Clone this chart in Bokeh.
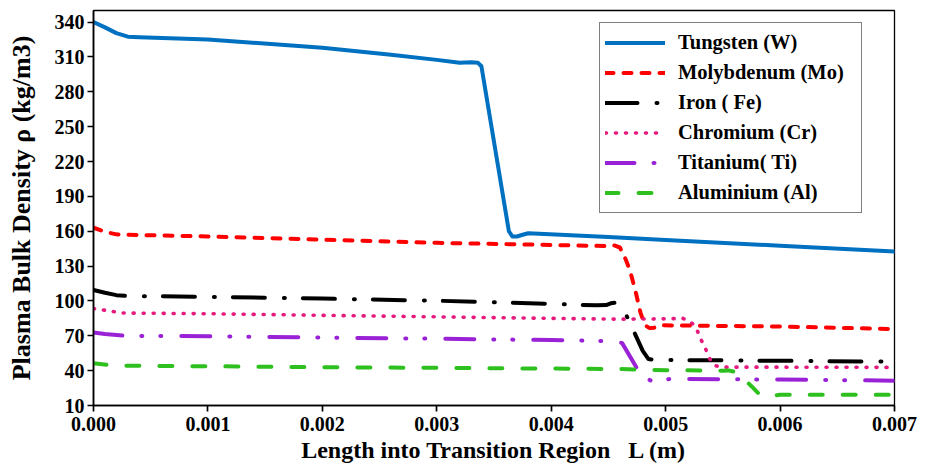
from bokeh.plotting import figure
from bokeh.models import Legend, LegendItem, FixedTicker, NumeralTickFormatter
from bokeh.embed import file_html
from bokeh.resources import INLINE

# Distance into the transition region L (m) and plasma bulk density (kg/m3)

w_x = [0.0, 0.0001, 0.0002, 0.0003, 0.0004, 0.001, 0.002, 0.0026, 0.003, 0.0032,
       0.00325, 0.0033, 0.00336, 0.00339, 0.00363, 0.00366, 0.0037, 0.00375, 0.0038,
       0.0045, 0.005, 0.006, 0.007]
w_rho = [340, 335.5, 330.5, 327.5, 327, 325, 318, 312, 307.5, 305,
         305.3, 305.5, 305, 302, 160, 155.5, 155.5, 157, 158.3,
         155, 152.5, 147.5, 142.5]

mo_x = [0.0, 0.0001, 0.0002, 0.0003, 0.001, 0.002, 0.003, 0.004, 0.0045, 0.00455,
        0.0046, 0.00465, 0.00469, 0.00474, 0.00478, 0.00482, 0.00486, 0.0049, 0.00497,
        0.006, 0.007]
mo_rho = [163, 159.5, 157.3, 157, 155.5, 152.7, 150, 148.2, 147.2, 147.8,
          146, 136, 125.7, 107, 90, 79, 76.6, 77, 79,
          78, 75.8]

fe_x = [0.0, 0.0001, 0.0002, 0.0003, 0.001, 0.002, 0.003, 0.004, 0.0044, 0.00448,
        0.00452, 0.00456, 0.0046, 0.00465, 0.00472, 0.0048, 0.00485, 0.0049, 0.005,
        0.006, 0.007]
fe_rho = [109.4, 107, 105, 104.3, 103.5, 102, 100.2, 97.5, 96.2, 96.5,
          98, 98.5, 95.5, 89, 74.3, 57, 50, 49.3, 49.2,
          48.5, 47.7]

cr_x = [0.0, 0.0001, 0.00025, 0.001, 0.002, 0.003, 0.004, 0.0046, 0.005, 0.00515,
        0.0052, 0.00524, 0.00528, 0.00531, 0.00535, 0.00538, 0.00543, 0.0055, 0.006,
        0.007]
cr_rho = [93.4, 92, 89.6, 89, 87.6, 86.3, 85, 84.3, 84.6, 85,
          83, 80, 73.7, 66.6, 58.6, 51, 44.3, 43, 43,
          42.8]

ti_x = [0.0, 0.0001, 0.00028, 0.001, 0.002, 0.003, 0.004, 0.0045, 0.0046, 0.00462,
        0.00477, 0.0048, 0.00488, 0.00495, 0.00505, 0.0055, 0.006, 0.007]
ti_rho = [72.8, 71.5, 70, 69.6, 68.5, 67.5, 66.3, 65.5, 64.3, 63.7,
          38.6, 35, 31, 31.5, 33, 32.6, 32.3, 31.4]

al_x = [0.0, 0.00013, 0.00024, 0.001, 0.002, 0.003, 0.004, 0.0046, 0.0049, 0.0055,
        0.00555, 0.0056, 0.00564, 0.00575, 0.00582, 0.00587, 0.0059, 0.006, 0.007]
al_rho = [46.3, 44.9, 44.3, 43.8, 43, 42.4, 41.8, 41.4, 40.5, 40,
          40.2, 39, 37, 26.6, 19.5, 17.6, 17.8, 19.3, 19.2]

x_ticks = [0.0, 0.001, 0.002, 0.003, 0.004, 0.005, 0.006, 0.007]
y_ticks = [10, 40, 70, 100, 130, 160, 190, 220, 250, 280, 310, 340]

FONT = "Liberation Serif"

p = figure(width=930, height=471, x_range=(0, 0.007), y_range=(10, 350),
           output_backend="svg", toolbar_location=None,
           min_border_left=93, min_border_right=36, min_border_top=10,
           min_border_bottom=66)
p.background_fill_color = "white"
p.border_fill_color = "white"
p.outline_line_color = "black"
p.outline_line_width = 1.3
p.grid.grid_line_color = None

p.xaxis.ticker = FixedTicker(ticks=x_ticks)
p.xaxis.formatter = NumeralTickFormatter(format="0.000")
p.yaxis.ticker = FixedTicker(ticks=y_ticks)

for ax in (p.xaxis[0], p.yaxis[0]):
    ax.axis_line_width = 1.7
    ax.axis_line_color = "black"
    ax.major_tick_line_width = 1.7
    ax.major_tick_line_color = "black"
    ax.major_tick_in = 0
    ax.major_tick_out = 6
    ax.minor_tick_line_color = None
    ax.major_label_text_font = FONT
    ax.major_label_text_font_style = "bold"
    ax.major_label_text_font_size = "20px"
    ax.major_label_text_color = "black"
    ax.axis_label_text_font = FONT
    ax.axis_label_text_font_style = "bold"
    ax.axis_label_text_color = "black"

p.xaxis.major_label_standoff = 5
p.yaxis.major_label_standoff = 3
p.xaxis.axis_label = "Length into Transition Region\u00a0\u00a0\u00a0L (m)"
p.xaxis.axis_label_text_font_size = "24px"
p.xaxis.axis_label_standoff = 3
p.yaxis.axis_label = "Plasma Bulk Density \u03c1 (kg/m3)"
p.yaxis.axis_label_text_font_size = "26px"
p.yaxis.axis_label_standoff = 16

common = dict(line_width=4, line_cap="round", line_join="round")
r_w = p.line(w_x, w_rho, line_color="#0070C0", **common)
r_mo = p.line(mo_x, mo_rho, line_color="#FF0000", line_dash="8 10", **common)
r_fe = p.line(fe_x, fe_rho, line_color="#000000", line_dash="32 19 1 18", **common)
r_cr = p.line(cr_x, cr_rho, line_color="#E6197D", line_dash="1 9",
              line_width=3.6, line_cap="round", line_join="round")
r_ti = p.line(ti_x, ti_rho, line_color="#9A22D6", line_dash="29 19 1 18 1 20", **common)
r_al = p.line(al_x, al_rho, line_color="#2EC01E", line_dash="13 20", **common)

legend = Legend(
    items=[
        LegendItem(label="Tungsten (W)", renderers=[r_w]),
        LegendItem(label="Molybdenum (Mo)", renderers=[r_mo]),
        LegendItem(label="Iron ( Fe)", renderers=[r_fe]),
        LegendItem(label="Chromium (Cr)", renderers=[r_cr]),
        LegendItem(label="Titanium( Ti)", renderers=[r_ti]),
        LegendItem(label="Aluminium (Al)", renderers=[r_al]),
    ],
    location=(506, 192),
    padding=5, spacing=1,
    glyph_width=60, glyph_height=29, label_height=29, label_width=178,
    label_standoff=13,
    label_text_font=FONT, label_text_font_style="bold",
    label_text_font_size="20.5px", label_text_color="black",
    border_line_color="black", border_line_width=1.5,
    background_fill_color="white", background_fill_alpha=1.0,
)
p.add_layout(legend)

open("out.html", "w").write(file_html(p, INLINE))
